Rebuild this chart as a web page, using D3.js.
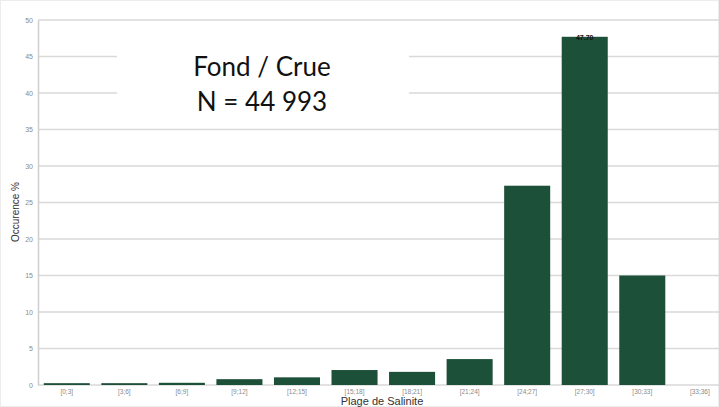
<!DOCTYPE html>
<html>
<head>
<meta charset="utf-8">
<script src="https://cdn.jsdelivr.net/npm/d3@7"></script>
<style>
  body { margin: 0; background: #fff; }
  svg { display: block; }
</style>
</head>
<body>
<div id="chart"></div>
<script>
// Salinity ranges and occurrence (%)
const categories = ["[0;3]", "[3;6]", "[6;9]", "[9;12]", "[12;15]", "[15;18]",
                    "[18;21]", "[21;24]", "[24;27]", "[27;30]", "[30;33]", "[33;36]"];
const occurrence = [0.25, 0.25, 0.3, 0.8, 1.05, 2.05, 1.8, 3.55, 27.3, 47.7, 15.0, 0];
const yTicks = [0, 5, 10, 15, 20, 25, 30, 35, 40, 45, 50];
const titleLines = ["Fond / Crue", "N = 44 993"];

const width = 719, height = 407;

const svg = d3.select("#chart")
    .append("svg")
    .attr("width", width)
    .attr("height", height);

// faint outer border
svg.append("rect")
    .attr("x", 0.5).attr("y", 0.5)
    .attr("width", width - 1).attr("height", height - 1)
    .attr("fill", "none")
    .attr("stroke", "#ececec");

const x = d3.scaleBand()
    .domain(categories)
    .range([38, 728.6])
    .paddingInner(0.2)
    .paddingOuter(0.1);

const y = d3.scaleLinear()
    .domain([0, 50])
    .range([385, 20]);

// gridlines
svg.append("g")
    .selectAll("line")
    .data(yTicks)
    .enter()
    .append("line")
    .attr("x1", 38)
    .attr("x2", width)
    .attr("y1", d => y(d))
    .attr("y2", d => y(d))
    .attr("stroke", "#d9d9d9")
    .attr("stroke-width", 1.5);

// y axis
const yAxis = svg.append("g")
    .attr("transform", "translate(38,0)")
    .call(d3.axisLeft(y).tickValues(yTicks).tickSize(0).tickPadding(5));
yAxis.select(".domain").attr("stroke", "#cfcfcf").attr("stroke-width", 1.5);
yAxis.selectAll("text")
    .attr("fill", "#8a8a8a")
    .style("font-family", "Liberation Sans, Arial, sans-serif")
    .style("font-size", "7px");

// bars
svg.append("g")
    .selectAll("rect")
    .data(occurrence)
    .enter()
    .append("rect")
    .attr("x", (d, i) => x(categories[i]))
    .attr("y", d => y(d))
    .attr("width", x.bandwidth())
    .attr("height", d => y(0) - y(d))
    .attr("fill", "#1d5038");

// x axis labels
const xAxis = svg.append("g")
    .attr("transform", "translate(0,386)")
    .call(d3.axisBottom(x).tickSize(0).tickPadding(3));
xAxis.select(".domain").remove();
xAxis.selectAll("text")
    .attr("fill", "#8a8a8a")
    .style("font-family", "Liberation Sans, Arial, sans-serif")
    .style("font-size", "6.5px");

// value label on the tallest bar (mostly hidden in the original)
const iMax = occurrence.indexOf(d3.max(occurrence));
svg.append("text")
    .attr("x", x(categories[iMax]) + x.bandwidth() / 2)
    .attr("y", y(occurrence[iMax]) + 3)
    .attr("text-anchor", "middle")
    .attr("fill", "#111")
    .style("font-family", "Liberation Sans, Arial, sans-serif")
    .style("font-size", "7px")
    .style("font-weight", "bold")
    .text(occurrence[iMax].toFixed(2));

// axis titles
svg.append("text")
    .attr("transform", "translate(19,212) rotate(-90)")
    .attr("text-anchor", "middle")
    .attr("fill", "#333")
    .style("font-family", "Liberation Sans, Arial, sans-serif")
    .style("font-size", "10px")
    .text("Occurence %");

svg.append("text")
    .attr("x", 382)
    .attr("y", 405)
    .attr("text-anchor", "middle")
    .attr("fill", "#333")
    .style("font-family", "Liberation Sans, Arial, sans-serif")
    .style("font-size", "11px")
    .text("Plage de Salinite");

// title box covering the gridlines
svg.append("rect")
    .attr("x", 117)
    .attr("y", 23)
    .attr("width", 292)
    .attr("height", 100)
    .attr("fill", "#fff");

svg.append("g")
    .selectAll("text")
    .data(titleLines)
    .enter()
    .append("text")
    .attr("x", 262)
    .attr("y", (d, i) => 76 + i * 35)
    .attr("text-anchor", "middle")
    .attr("fill", "#111")
    .style("font-family", "Lato, sans-serif")
    .style("font-size", "26px")
    .text(d => d);
</script>
</body>
</html>
